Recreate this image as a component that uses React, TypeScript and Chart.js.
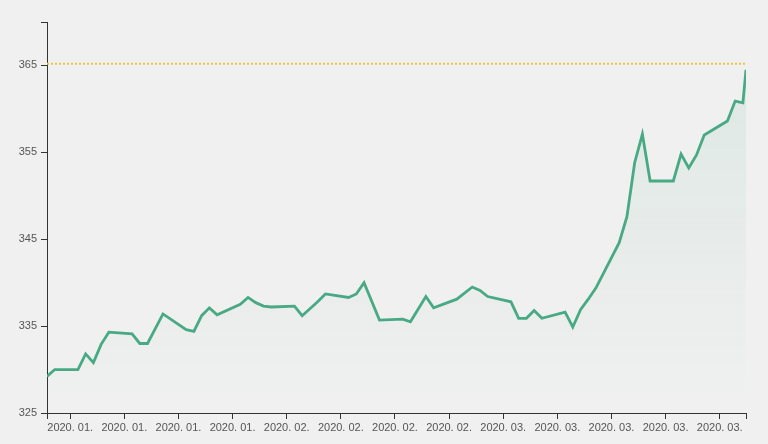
import React, { useEffect, useRef } from "react";
import { Chart, registerables } from "chart.js";

Chart.register(...registerables);

// day offsets from 2020-01-01 (0 = Jan 1)
const days: number[] = [
  1, 2, 5, 6, 7, 8, 9, 12, 13, 14, 16, 19, 20, 21, 22, 23, 26, 27, 28, 29, 30,
  33, 34, 36, 37, 40, 41, 42, 44, 47, 48, 50, 51, 54, 56, 57, 58, 61, 62, 63,
  64, 65, 68, 69, 70, 71, 72, 75, 76, 77, 78, 79, 82, 83, 84, 85, 86, 89, 90,
  91, 91.4,
];
const values: number[] = [
  329.2, 330.0, 330.0, 331.8, 330.8, 332.9, 334.3, 334.1, 333.0, 333.0, 336.4,
  334.6, 334.4, 336.2, 337.1, 336.3, 337.5, 338.3, 337.7, 337.3, 337.2, 337.3,
  336.2, 337.8, 338.7, 338.3, 338.7, 340.0, 335.7, 335.8, 335.5, 338.4, 337.1,
  338.1, 339.5, 339.1, 338.4, 337.8, 335.9, 335.9, 336.8, 335.9, 336.6, 334.9,
  336.9, 338.1, 339.4, 344.6, 347.6, 353.8, 357.1, 351.7, 351.7, 354.8, 353.2,
  354.7, 357.0, 358.6, 360.9, 360.7, 364.5,
];
const xTickDays: number[] = [4, 11, 18, 25, 32, 39, 46, 53, 60, 67, 74, 81, 88];
const yTickValues: number[] = [325, 335, 345, 355, 365];
const yMin = 325;
const yMax = 370;
const targetValue = 365.2;

const fmtDay = (d: number) => {
  const dt = new Date(2020, 0, 1 + Math.round(d));
  const m = String(dt.getMonth() + 1).padStart(2, "0");
  return `${dt.getFullYear()}. ${m}.`;
};

export default function App() {
  const ref = useRef<HTMLCanvasElement | null>(null);

  useEffect(() => {
    document.body.style.margin = "0";
    document.body.style.background = "#f0f0f0";
    const canvas = ref.current!;
    const xMin = days[0];
    const xMax = days[days.length - 1];
    const axisColor = "#333";
    const font = { family: "'Liberation Sans', Arial, sans-serif", size: 11 };

    const chart = new Chart(canvas, {
      type: "line",
      data: {
        datasets: [
          {
            data: days.map((d, i) => ({ x: d, y: values[i] })),
            borderColor: "#48a985",
            borderWidth: 2.8,
            pointRadius: 0,
            tension: 0,
            fill: "start",
            backgroundColor: (ctx: any) => {
              const area = ctx.chart.chartArea;
              if (!area) return "rgba(72,169,133,0.06)";
              const g = ctx.chart.ctx.createLinearGradient(0, area.top, 0, area.bottom);
              g.addColorStop(0, "rgba(72,169,133,0.12)");
              g.addColorStop(0.7, "rgba(72,169,133,0.03)");
              g.addColorStop(1, "rgba(72,169,133,0)");
              return g;
            },
          },
          {
            data: [
              { x: xMin, y: targetValue },
              { x: xMax, y: targetValue },
            ],
            borderColor: "#f0c43c",
            borderWidth: 2,
            borderDash: [2, 2],
            pointRadius: 0,
            fill: false,
          },
        ],
      },
      options: {
        responsive: false,
        animation: false,
        layout: { padding: { top: 22, right: 22, left: 0, bottom: 0 } },
        plugins: { legend: { display: false }, tooltip: { enabled: false } },
        scales: {
          x: {
            type: "linear",
            min: xMin,
            max: xMax,
            afterBuildTicks: (s: any) => {
              s.ticks = [xMin, ...xTickDays, xMax].map((v) => ({ value: v }));
            },
            afterFit: (s: any) => {
              s.height = 31;
            },
            ticks: {
              autoSkip: false,
              maxRotation: 0,
              color: "#555",
              font,
              padding: 2,
              callback: (v: any) =>
                v === xMin || v === xMax ? "" : fmtDay(Number(v)),
            },
            grid: {
              drawOnChartArea: false,
              drawTicks: true,
              tickLength: 6,
              color: axisColor,
            },
            border: { color: axisColor, width: 1 },
          },
          y: {
            min: yMin,
            max: yMax,
            afterBuildTicks: (s: any) => {
              s.ticks = [...yTickValues, yMax].map((v) => ({ value: v }));
            },
            afterFit: (s: any) => {
              s.width = 47;
            },
            ticks: {
              color: "#555",
              font,
              padding: 4,
              callback: (v: any) => (v === yMax ? "" : String(v)),
            },
            grid: {
              drawOnChartArea: false,
              drawTicks: true,
              tickLength: 6,
              color: axisColor,
            },
            border: { color: axisColor, width: 1 },
          },
        },
      },
    } as any);
    return () => chart.destroy();
  }, []);

  return (
    <div style={{ width: 768, height: 444, background: "#f0f0f0" }}>
      <canvas ref={ref} width={768} height={444} />
    </div>
  );
}
